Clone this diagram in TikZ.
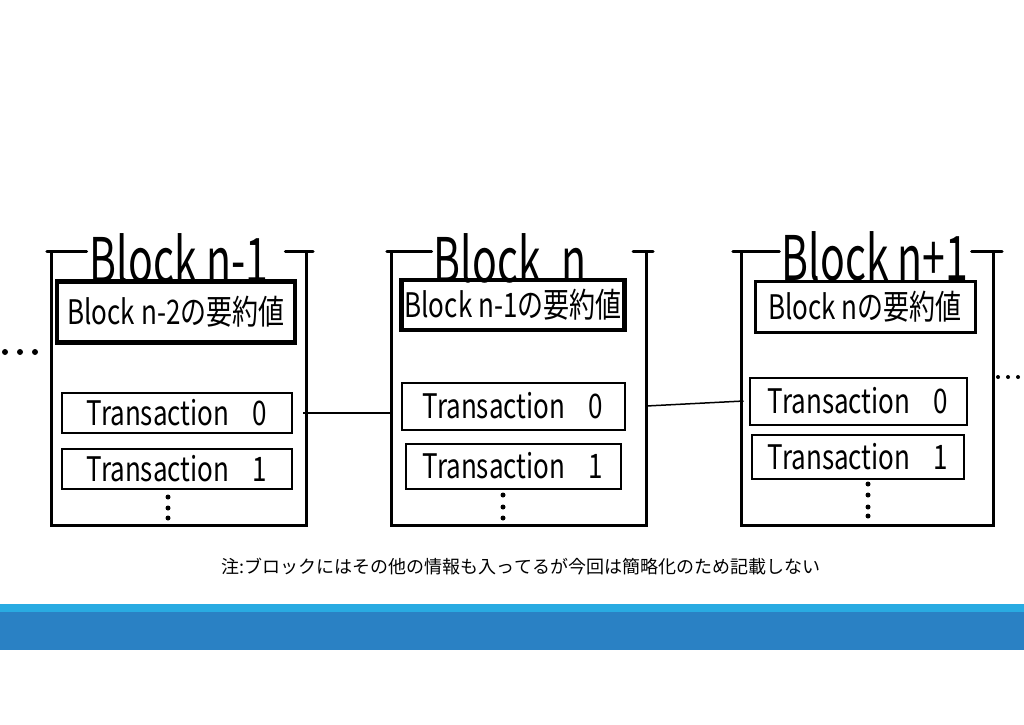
\documentclass[tikz,border=0pt]{standalone}
\usepackage{fontspec}
\setmainfont{Noto Sans CJK JP}
\usetikzlibrary{positioning}
\definecolor{bandlight}{HTML}{29ABE2}
\definecolor{banddark}{HTML}{2A81C4}
\newcommand{\handtext}[2][1.3]{\scalebox{1}[#1]{#2}}

\begin{document}
\begin{tikzpicture}[
  x=1pt, y=-1pt,
  frame/.style={minimum width=254pt, minimum height=273pt, inner sep=0pt},
  bracket/.style={line width=3pt, line cap=round},
  title/.style={inner sep=0pt, font=\fontsize{41}{44}\selectfont},
  sumbox/.style={draw, line width=4.5pt, inner sep=0pt,
    font=\fontsize{26}{30}\selectfont},
  txbox/.style={draw, line width=2pt, inner sep=0pt,
    font=\fontsize{26}{30}\selectfont},
  link/.style={line width=1.5pt},
  dot/.style={circle, fill, inner sep=0pt, minimum size=5pt},
  note/.style={font=\fontsize{18}{20}\selectfont},
]
\useasboundingbox (0,0) rectangle (1024,724);

% Block n-1
\node[frame] (fa) at (179,388.5) {};
\node[title] (ta) at (179,258) {\handtext[1.5]{Block n-1}};
\draw[bracket] (fa.north west) -- (fa.south west) -- (fa.south east) -- (fa.north east);
\draw[bracket] ([xshift=-5pt]fa.north west) -- ([xshift=-3pt]ta.west |- fa.north);
\draw[bracket] ([xshift=17pt]ta.east |- fa.north) -- ([xshift=7pt]fa.north east);
\node[sumbox, minimum width=238pt, minimum height=61pt] (sa) at (176,312)
  {\handtext{Block n-2の要約値}};
\node[txbox, minimum width=230pt, minimum height=40pt] (t0a) at (177,413)
  {\handtext{Transaction\hspace{0.9em}0}};
\node[txbox, minimum width=230pt, minimum height=40pt, below=14pt of t0a] (t1a)
  {\handtext{Transaction\hspace{0.9em}1}};
\node[dot] (da1) at (168,497) {};
\node[dot] (da2) at (168,508) {};
\node[dot] (da3) at (168,518) {};

% Block n
\node[frame] (fb) at (519,388.5) {};
\node[title] (tb) at (510,258) {\handtext[1.5]{Block\hspace{0.5em}n}};
\draw[bracket] (fb.north west) -- (fb.south west) -- (fb.south east) -- (fb.north east);
\draw[bracket] ([xshift=-5pt]fb.north west) -- ([xshift=-2pt]tb.west |- fb.north);
\draw[bracket] ([xshift=-13pt]fb.north east) -- ([xshift=7pt]fb.north east);
\node[sumbox, minimum width=223pt, minimum height=50pt] (sb) at (513,305)
  {\handtext{Block n-1の要約値}};
\node[txbox, minimum width=223pt, minimum height=47pt] (t0b) at (513,406)
  {\handtext{Transaction\hspace{0.9em}0}};
\node[txbox, minimum width=215pt, minimum height=45pt, below=12pt of t0b] (t1b)
  {\handtext{Transaction\hspace{0.9em}1}};
\node[dot] (db1) at (503,495) {};
\node[dot] (db2) at (503,507) {};
\node[dot] (db3) at (503,518) {};

% Block n+1
\node[frame, minimum width=251pt] (fc) at (867.5,388.5) {};
\node[title] (tc) at (875,256) {\handtext[1.5]{Block n+1}};
\draw[bracket] (fc.north west) -- (fc.south west) -- (fc.south east) -- (fc.north east);
\draw[bracket] ([xshift=-9pt]fc.north west) -- ([xshift=-2pt]tc.west |- fc.north);
\draw[bracket] ([xshift=3pt]tc.east |- fc.north) -- ([xshift=9pt]fc.north east);
\node[sumbox, line width=3pt, minimum width=220pt, minimum height=51pt] (sc) at (865,307)
  {\handtext{Block nの要約値}};
\node[txbox, minimum width=217pt, minimum height=47pt] (t0c) at (858,401)
  {\handtext{Transaction\hspace{0.9em}0}};
\node[txbox, minimum width=212pt, minimum height=44pt, below=8pt of t0c] (t1c)
  {\handtext{Transaction\hspace{0.9em}1}};
\node[dot] (dc1) at (868,484) {};
\node[dot] (dc2) at (868,495) {};
\node[dot] (dc3) at (868,507) {};
\node[dot] (dc4) at (868,516) {};

% links between the blocks
\draw[link] ([xshift=10pt]t0a.east) -- (fb.west |- t0a.east);
\draw[link] (fb.east |- t0b.east) -- ([xshift=-5pt]t0c.west);

% more blocks on both sides
\node[dot, minimum size=6pt] (la1) at (5,352) {};
\node[dot, minimum size=6pt] (la2) at (20,352) {};
\node[dot, minimum size=6pt] (la3) at (35,352) {};
\node[dot, minimum size=4pt] (ra1) at (998,377) {};
\node[dot, minimum size=4pt] (ra2) at (1008,377) {};
\node[dot, minimum size=4pt] (ra3) at (1018,377) {};

% note and band
\node[note] (memo) at (521,567)
  {注:ブロックにはその他の情報も入ってるが今回は簡略化のため記載しない};
\fill[bandlight] (0,604) rectangle (1024,612);
\fill[banddark] (0,612) rectangle (1024,650);
\end{tikzpicture}
\end{document}
